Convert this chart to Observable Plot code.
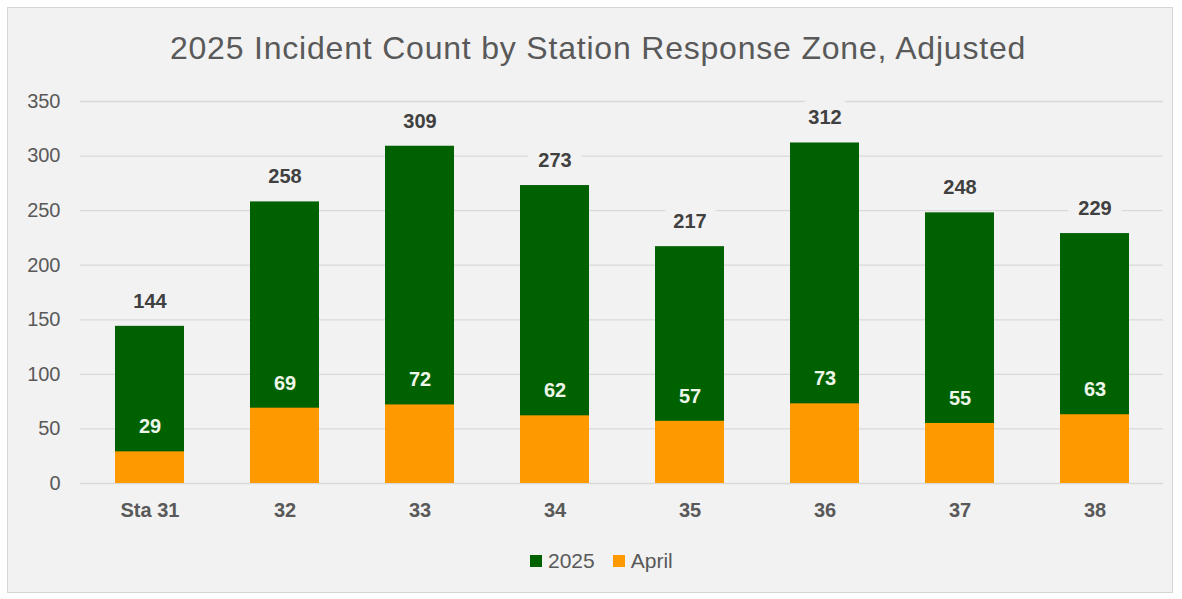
<!DOCTYPE html>
<html>
<head>
<meta charset="utf-8">
<script src="https://cdn.jsdelivr.net/npm/d3@7"></script>
<script src="https://cdn.jsdelivr.net/npm/@observablehq/plot@0.6"></script>
<style>
  html, body { margin: 0; padding: 0; background: #ffffff; overflow: hidden; }
  body { width: 1182px; height: 599px; position: relative; font-family: "Liberation Sans", Arial, sans-serif; }
  #frame { position: absolute; left: 7px; top: 7px; width: 1166px; height: 586px; box-sizing: border-box;
           background: #f2f2f2; border: 1px solid #d6d6d6; }
  #title { position: absolute; left: 0; top: 31px; width: 1196px; text-align: center; font-size: 32px;
           letter-spacing: 0.8px; line-height: 34px; color: #595959; }
  #chart { position: absolute; left: 0; top: 80px; }
  #legend { position: absolute; left: 530px; top: 550px; height: 22px; display: flex; align-items: center;
            font-size: 21px; color: #595959; }
  .sw { width: 12px; height: 12px; display: inline-block; margin-right: 6px; }
  .item { display: flex; align-items: center; margin-right: 18px; }
</style>
</head>
<body>
<div id="frame"></div>
<div id="title">2025 Incident Count by Station Response Zone, Adjusted</div>
<div id="chart"></div>
<div id="legend"></div>
<script>
// ---- data ----
const categories = ["Sta 31", "32", "33", "34", "35", "36", "37", "38"];
const total2025 = [144, 258, 309, 273, 217, 312, 248, 229];
const april = [29, 69, 72, 62, 57, 73, 55, 63];
const yTicks = [0, 50, 100, 150, 200, 250, 300, 350];
const seriesNames = ["2025", "April"];
const seriesColors = ["#006100", "#ff9900"];

const data = categories.map((c, i) => ({ station: c, total: total2025[i], april: april[i] }));
const bg = "#f2f2f2";

const chart = Plot.plot({
  width: 1182,
  height: 450,
  marginLeft: 80,
  marginRight: 19,
  marginTop: 21,
  marginBottom: 47,
  style: { background: "transparent", fontFamily: "'Liberation Sans', Arial, sans-serif", fontSize: "20px", color: "#595959", overflow: "visible" },
  x: { domain: categories, paddingInner: 0.49, paddingOuter: 0.245, label: null },
  y: { domain: [0, 350], label: null },
  marks: [
    Plot.gridY(yTicks, { stroke: "#d9d9d9", strokeOpacity: 1, strokeWidth: 1.3 }),
    Plot.axisY(yTicks, { tickSize: 0, tickPadding: 20, label: null, fill: "#595959", fontSize: 20 }),
    Plot.axisX({ tickSize: 0, tickPadding: 19, label: null, fill: "#595959", fontWeight: "bold", fontSize: 20 }),
    Plot.barY(data, { x: "station", y: "total", fill: seriesColors[0] }),
    Plot.barY(data, { x: "station", y: "april", fill: seriesColors[1] }),
    Plot.text(data, { x: "station", y: "total", text: d => String(d.total), dy: -25, fill: "#404040",
      fontWeight: "bold", fontSize: 20, stroke: bg, strokeWidth: 22, strokeLinejoin: "round", paintOrder: "stroke" }),
    Plot.text(data, { x: "station", y: "april", text: d => String(d.april), dy: -25, fill: "#eef6ea",
      fontWeight: "bold", fontSize: 20 })
  ]
});
document.getElementById("chart").appendChild(chart);

const legend = document.getElementById("legend");
seriesNames.forEach((n, i) => {
  const it = document.createElement("div");
  it.className = "item";
  const sw = document.createElement("span");
  sw.className = "sw";
  sw.style.background = seriesColors[i];
  it.appendChild(sw);
  const t = document.createElement("span");
  t.textContent = n;
  it.appendChild(t);
  legend.appendChild(it);
});
</script>
</body>
</html>
